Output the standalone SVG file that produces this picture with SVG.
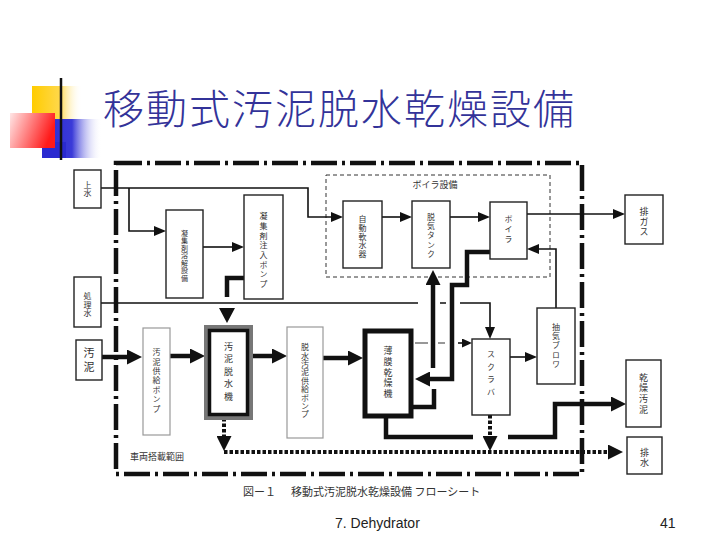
<svg xmlns="http://www.w3.org/2000/svg" width="720" height="540" viewBox="0 0 720 540">
<defs>
<linearGradient id="gY" x1="0" y1="0" x2="1" y2="0"><stop offset="0" stop-color="#ffcc00"/><stop offset="0.55" stop-color="#ffd84a"/><stop offset="1" stop-color="#ffffff" stop-opacity="0"/></linearGradient>
<linearGradient id="gR" x1="0" y1="0" x2="1" y2="0.3"><stop offset="0" stop-color="#ffe6e6"/><stop offset="1" stop-color="#ff1a1a"/></linearGradient>
<linearGradient id="gB" x1="0" y1="0" x2="1" y2="0"><stop offset="0" stop-color="#2a2ad0"/><stop offset="0.5" stop-color="#3a3ad8"/><stop offset="1" stop-color="#ffffff" stop-opacity="0"/></linearGradient>
<linearGradient id="gL" x1="0" y1="0" x2="1" y2="0"><stop offset="0" stop-color="#111"/><stop offset="0.5" stop-color="#666"/><stop offset="1" stop-color="#ddd"/></linearGradient>
<marker id="aT" markerUnits="userSpaceOnUse" markerWidth="12" markerHeight="10" viewBox="0 0 12 10" refX="0" refY="5" orient="auto"><path d="M0,0L12,5L0,10z" fill="#111"/></marker>
<marker id="aS" markerUnits="userSpaceOnUse" markerWidth="10" markerHeight="9" viewBox="0 0 10 9" refX="0" refY="4.5" orient="auto"><path d="M0,0L10,4.5L0,9z" fill="#111"/></marker>
<marker id="aK" markerUnits="userSpaceOnUse" markerWidth="15" markerHeight="15" viewBox="0 0 15 15" refX="0" refY="7.5" orient="auto"><path d="M0,0L15,7.5L0,15z" fill="#111"/></marker>
</defs>
<style>
.bx{fill:#fff;stroke:#222;stroke-width:1.4}
.lg{fill:#fff;stroke:#999;stroke-width:1.2}
.v{font-family:"Noto Sans CJK JP","Noto Sans CJK SC",sans-serif;writing-mode:vertical-rl;text-anchor:middle;fill:#333}
.t{fill:none;stroke:#111;stroke-width:1.6}
.k{fill:none;stroke:#111;stroke-width:4.5}
.d{fill:none;stroke:#111;stroke-width:4;stroke-dasharray:3.5 2}
</style>
<rect width="720" height="540" fill="#fff"/>
<!-- logo -->
<g id="logo">
<rect x="32" y="86" width="50" height="36" fill="url(#gY)"/>
<rect x="42" y="119" width="60" height="39" fill="url(#gB)"/>
<rect x="42" y="142" width="24" height="16" fill="#2a2ad0"/>
<rect x="10" y="113" width="45" height="35" fill="url(#gR)"/>
<line x1="61" y1="78" x2="61" y2="160" stroke="#111" stroke-width="2.5"/>
<line x1="34" y1="141" x2="600" y2="141" stroke="url(#gL)" stroke-width="2.5"/>
</g>
<text x="103" y="124" font-family="Noto Sans CJK JP,Noto Sans CJK SC,sans-serif" font-size="41" font-weight="300" letter-spacing="2" fill="#333399">移動式汚泥脱水乾燥設備</text>
<!-- frame -->
<rect x="116" y="163" width="466" height="311" fill="none" stroke="#111" stroke-width="4.5" stroke-dasharray="26 5 3 5"/>
<rect x="326" y="175" width="224" height="102" fill="none" stroke="#333" stroke-width="1" stroke-dasharray="4 3"/>
<text x="435" y="188" font-family="Noto Sans CJK JP,sans-serif" font-size="9" text-anchor="middle" fill="#333">ボイラ設備</text>
<text x="130" y="460" font-family="Noto Sans CJK JP,sans-serif" font-size="9" fill="#333">車両搭載範囲</text>
<!-- connectors -->
<g id="connectors">
<path class="t" d="M101,188H308V217H331" marker-end="url(#aT)"/>
<path class="t" d="M129,188V231H154" marker-end="url(#aT)"/>
<path class="t" d="M203,247H232" marker-end="url(#aT)"/>
<path class="t" d="M382,217H400" marker-end="url(#aT)"/>
<path class="t" d="M450,217H478" marker-end="url(#aT)"/>
<path class="t" d="M527,214H613" marker-end="url(#aT)"/>
<path class="t" d="M556,308V249H539" marker-end="url(#aT)"/>
<path class="t" d="M101,303H418M440,303H446"/>
<path class="t" d="M460,303H490V327" marker-end="url(#aT)"/>
<path class="t" d="M510,357H525" marker-end="url(#aT)"/>
<path d="M415,343H428M438,343H445" stroke="#777" stroke-width="1.3" fill="none"/>
<path class="t" d="M458,343H462" marker-end="url(#aS)"/>
<path class="k" d="M102,357H127" marker-end="url(#aK)"/>
<path class="k" d="M170,356H190" marker-end="url(#aK)"/>
<path class="k" d="M250,356H272" marker-end="url(#aK)"/>
<path class="k" d="M323,358H348" marker-end="url(#aK)"/>
<path class="k" d="M244,278H227V297"/>
<polygon points="219,308 235,308 227,323" fill="#111"/>
<path class="k" d="M490,252H467V285H452V379H430" marker-end="url(#aK)"/>
<path class="k" d="M433,368V285" marker-end="url(#aK)"/>
<path class="k" d="M413,407H434V389"/>
<path class="k" d="M386,418V437H473M508,437H555V404H611" marker-end="url(#aK)"/>
<path class="d" d="M224,418V436" marker-end="url(#aK)"/>
<path class="d" d="M224,452H608" marker-end="url(#aK)"/>
<path class="d" d="M490,415V436" marker-end="url(#aK)"/>
</g>
<!-- nodes -->
<g id="n-jousui"><rect class="bx" x="74" y="170" width="27" height="38"/><text class="v" x="87.5" y="189" font-size="8" letter-spacing="0.5">上水</text></g>
<g id="n-shorisui"><rect class="bx" x="74" y="277" width="27" height="50"/><text class="v" x="87.5" y="305" font-size="8" letter-spacing="0.7">処理水</text></g>
<g id="n-odei"><rect class="bx" x="76" y="340" width="26" height="40"/><text class="v" x="89" y="361" font-size="11" letter-spacing="3">汚泥</text></g>
<g id="n-youkai"><rect class="bx" x="166" y="210" width="37" height="88"/><text class="v" x="184.5" y="256" font-size="7" letter-spacing="0.5">凝集剤溶解設備</text></g>
<g id="n-chunyu"><rect class="bx" x="244" y="195" width="39" height="104"/><text class="v" x="263.5" y="251" font-size="8" letter-spacing="1.7">凝集剤注入ポンプ</text></g>
<g id="n-nansui"><rect class="bx" x="343" y="201" width="39" height="67"/><text class="v" x="362.5" y="237" font-size="8" letter-spacing="0.8">自動軟水器</text></g>
<g id="n-dakki"><rect class="bx" x="412" y="201" width="38" height="67"/><text class="v" x="431" y="236" font-size="8" letter-spacing="1.2">脱気タンク</text></g>
<g id="n-boiler"><rect class="bx" x="490" y="202" width="37" height="57"/><text class="v" x="508.5" y="230" font-size="8" letter-spacing="2">ボイラ</text></g>
<g id="n-haigas"><rect class="bx" x="625" y="195" width="38" height="49"/><text class="v" x="644" y="222" font-size="9" letter-spacing="1">排ガス</text></g>
<g id="n-pump1"><rect class="lg" x="143" y="328" width="27" height="107"/><text class="v" x="156.5" y="381" font-size="8" letter-spacing="1.4">汚泥供給ポンプ</text></g>
<g id="n-dassui"><rect x="207.5" y="328.5" width="42" height="88" fill="#fff" stroke="#777" stroke-width="7"/><rect x="209.5" y="330.5" width="38" height="84" fill="none" stroke="#111" stroke-width="3.5"/><text class="v" x="228.5" y="373" font-size="9" letter-spacing="3.4">汚泥脱水機</text></g>
<g id="n-pump2"><rect class="lg" x="287" y="327" width="36" height="111"/><text class="v" x="305" y="381" font-size="8" letter-spacing="0.4">脱水汚泥供給ポンプ</text></g>
<g id="n-kanso"><rect x="365" y="331" width="46" height="85" fill="#fff" stroke="#111" stroke-width="5"/><text class="v" x="388" y="373" font-size="9" letter-spacing="1.6">薄膜乾燥機</text></g>
<g id="n-scrubber"><rect class="bx" x="472" y="339" width="38" height="76"/><text class="v" x="491" y="375" font-size="8" letter-spacing="4.5">スクラバ</text></g>
<g id="n-blower"><rect class="bx" x="537" y="308" width="38" height="76"/><text class="v" x="556" y="346" font-size="8" letter-spacing="1.4">抽気ブロワ</text></g>
<g id="n-kansoodei"><rect class="bx" x="626" y="360" width="35" height="67"/><text class="v" x="643.5" y="394" font-size="9" letter-spacing="1.7">乾燥汚泥</text></g>
<g id="n-haisui"><rect class="bx" x="627" y="437" width="35" height="37"/><text class="v" x="644.5" y="458" font-size="9" letter-spacing="1">排水</text></g>
<!-- captions -->
<text x="243" y="496" font-family="Noto Sans CJK JP,sans-serif" font-size="11" fill="#333">図ー１</text>
<text x="291" y="496" font-family="Noto Sans CJK JP,sans-serif" font-size="11" fill="#333">移動式汚泥脱水乾燥設備 フローシート</text>
<text x="335" y="528" font-family="Liberation Sans,sans-serif" font-size="14" fill="#222">7. Dehydrator</text>
<text x="660" y="528" font-family="Liberation Sans,sans-serif" font-size="14" fill="#222">41</text>
</svg>
